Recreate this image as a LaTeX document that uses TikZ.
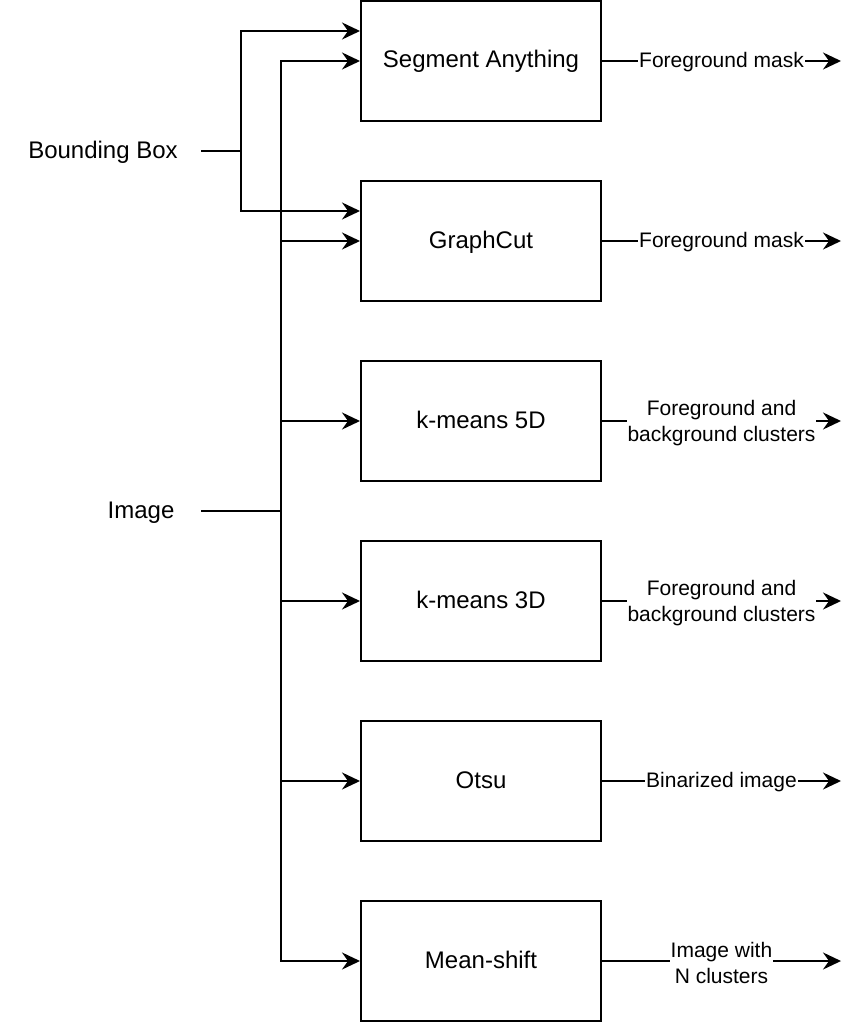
\documentclass[tikz,border=0pt]{standalone}
\usepackage{fontspec}
\setmainfont{Liberation Sans}
\usetikzlibrary{arrows.meta}
\begin{document}
\begin{tikzpicture}[x=1pt,y=-1pt,
  procbox/.style={draw,line width=2pt,minimum width=240pt,minimum height=120pt,inner sep=0pt,text height=17pt,text depth=3pt,font=\fontsize{24}{28}\selectfont},
  intext/.style={inner sep=0pt,text height=17pt,text depth=3pt,font=\fontsize{24}{28}\selectfont},
  conn/.style={line width=2pt},
  arr/.style={line width=2pt,-{Stealth[length=18pt,width=17pt,inset=6pt]}},
  lbl/.style={fill=white,inner sep=1pt,align=center,text height=15pt,text depth=2pt,font=\fontsize{21}{25.5}\selectfont},
  lbltwo/.style={fill=white,inner sep=1pt,align=center,yshift=-2pt,font=\fontsize{21}{25.5}\selectfont}
]
\useasboundingbox (0,0) rectangle (858,1022);
\fill[white] (0,0) rectangle (858,1022);

\node[procbox] (sa) at (481,61) {Segment Anything};
\node[procbox] (gc) at (481,241) {GraphCut};
\node[procbox] (k5) at (481,421) {k-means 5D};
\node[procbox] (k3) at (481,601) {k-means 3D};
\node[procbox] (ot) at (481,781) {Otsu};
\node[procbox] (ms) at (481,961) {Mean-shift};

\node[intext,minimum width=196pt] (bb) at (103,151) {Bounding Box};
\node[intext,minimum width=120pt] (img) at (141,511) {Image};

\coordinate (j1) at (241,151);
\coordinate (j2) at (281,511);
\coordinate (ox) at (841,0);

\draw[conn] (bb.east) -- (j1);
\draw[arr] (j1) |- ([yshift=30pt]sa.west);
\draw[arr] (j1) |- ([yshift=30pt]gc.west);

\draw[conn] (img.east) -- (j2);
\draw[arr] (j2) |- (sa.west);
\draw[arr] (j2) |- (gc.west);
\draw[arr] (j2) |- (k5.west);
\draw[arr] (j2) |- (k3.west);
\draw[arr] (j2) |- (ot.west);
\draw[arr] (j2) |- (ms.west);

\draw[arr] (sa.east) -- (sa.east -| ox) node[lbl,midway] {Foreground mask};
\draw[arr] (gc.east) -- (gc.east -| ox) node[lbl,midway] {Foreground mask};
\draw[arr] (k5.east) -- (k5.east -| ox) node[lbltwo,midway] {Foreground and\\background clusters};
\draw[arr] (k3.east) -- (k3.east -| ox) node[lbltwo,midway] {Foreground and\\background clusters};
\draw[arr] (ot.east) -- (ot.east -| ox) node[lbl,midway] {Binarized image};
\draw[arr] (ms.east) -- (ms.east -| ox) node[lbltwo,midway] {Image with\\N clusters};
\end{tikzpicture}
\end{document}
